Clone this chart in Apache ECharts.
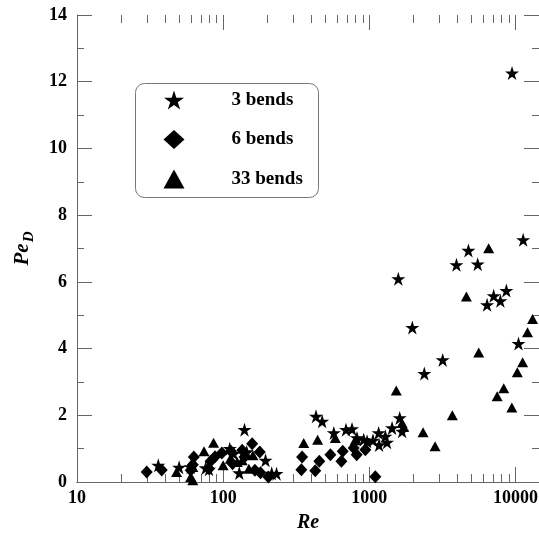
<!DOCTYPE html>
<html><head><meta charset="utf-8">
<script src="https://cdn.jsdelivr.net/npm/echarts@6/dist/echarts.min.js"></script>
<style>html,body{margin:0;padding:0;background:#fff}#c{width:539px;height:533px}</style>
</head><body><div id="c"></div>
<script>
// [Re, Pe_D]
const bends3 = [[36,0.50],[50,0.44],[60,0.45],[76,0.42],[80,0.38],[111,1.00],[118,0.85],[129,0.27],[140,1.57],[145,0.90],[195,0.65],[215,0.26],[232,0.25],
  [432,1.97],[476,1.82],[572,1.47],[693,1.57],[762,1.59],[824,1.32],[916,1.27],[966,1.22],[1060,1.25],[1159,1.47],[1167,1.11],[1288,1.37],[1323,1.19],[1432,1.62],[1615,1.92],[1678,1.52],
  [1580,6.09],[1970,4.63],[2380,3.25],[3180,3.66],[3950,6.51],[4770,6.94],[5520,6.53],[6400,5.31],[7100,5.58],[7890,5.43],[8670,5.74],[9480,12.26],[10500,4.15],[11300,7.26]];
const bends6 = [[30,0.30],[38,0.36],[60,0.35],[63,0.75],[62,0.52],[80,0.40],[82,0.62],[88,0.76],[98,0.87],[113,0.92],[116,0.55],[135,0.95],[140,0.75],[158,1.15],[165,0.35],[178,0.90],[180,0.28],[204,0.15],
  [343,0.37],[347,0.75],[427,0.34],[455,0.62],[542,0.82],[645,0.62],[658,0.92],[782,1.02],[820,0.82],[940,0.97],[1100,0.16]];
const bends33 = [[48,0.30],[60,0.15],[62,0.05],[62,0.45],[74,0.92],[86,1.18],[100,0.50],[112,0.70],[125,0.60],[135,0.65],[150,0.40],[160,0.80],
  [356,1.17],[443,1.27],[586,1.32],[800,1.25],[1530,2.74],[1678,1.77],[1720,1.65],[2334,1.49],[2820,1.07],[3700,2.00],[4620,5.56],[5610,3.88],[6560,7.01],[7500,2.57],[8320,2.81],[9450,2.23],[10300,3.29],[11200,3.59],[12100,4.49],[13100,4.89]];
const seriesNames = ['3 bends','6 bends','33 bends'];
const xTickLabels = [10,100,1000,10000];
const xMajorTicks = [100,1000,10000];
const xMinorTicks = [20,30,40,50,60,70,80,90,200,300,400,500,600,700,800,900,2000,3000,4000,5000,6000,7000,8000,9000];
const xRange = [10, 14500];
const yRange = [0, 14];

const FONT = 'Liberation Serif';
const STAR = 'path://M50 0 L61.23 34.55 L97.55 34.55 L68.16 55.9 L79.39 90.45 L50 69.1 L20.61 90.45 L31.84 55.9 L2.45 34.55 L38.77 34.55 Z';
const AX = '#666';

function tickSeries(values, atValue, dir, len) {
  return {type:'custom', silent:true, xAxisIndex:0, yAxisIndex:0, clip:false, z:1,
    data:values.map(v=>[v, atValue]), encode:{x:0, y:1},
    renderItem:(params, api)=>{
      const p = api.coord([api.value(0), atValue]);
      const x = Math.round(p[0]) + 0.5;
      return {type:'line', shape:{x1:x, y1:p[1], x2:x, y2:p[1] + dir*len}, style:{stroke:AX, lineWidth:1}};
    }};
}

const chart = echarts.init(document.getElementById('c'), null, {renderer:'canvas'});
const lblStyle = {color:'#000', fontFamily:FONT, fontWeight:'bold', fontSize:18};
chart.setOption({
  animation:false,
  backgroundColor:'#fff',
  grid:{left:77, right:0, top:15, bottom:51, containLabel:false, outerBoundsMode:'none'},
  legend:{
    data:seriesNames, orient:'vertical', left:163.5, top:90.5, padding:0,
    itemWidth:21, itemHeight:19, itemGap:20.5,
    textStyle:{color:'#000', fontFamily:FONT, fontWeight:'bold', fontSize:19, padding:[0,0,0,42]}
  },
  graphic:[{type:'rect', shape:{x:135.5, y:83.5, width:183, height:114, r:9}, style:{fill:'none', stroke:'#777', lineWidth:1}, z:10}],
  xAxis:[
    {type:'log', logBase:10, min:xRange[0], max:xRange[1], position:'bottom',
     axisLine:{show:true, lineStyle:{color:AX}}, axisTick:{show:false},
     axisLabel:Object.assign({margin:7, showMaxLabel:false, formatter:v=>{const r=Math.round(v);return xTickLabels.includes(r)?String(r):'';}}, lblStyle),
     splitLine:{show:false},
     name:'Re', nameLocation:'middle', nameGap:31,
     nameTextStyle:{color:'#000', fontFamily:FONT, fontWeight:'bold', fontStyle:'italic', fontSize:20}},
    {type:'log', logBase:10, min:xRange[0], max:xRange[1], position:'top',
     axisLine:{show:true, lineStyle:{color:AX}}, axisTick:{show:false},
     axisLabel:{show:false}, splitLine:{show:false}}
  ],
  yAxis:[
    {type:'value', min:yRange[0], max:yRange[1], interval:2, position:'left',
     axisLine:{show:true, lineStyle:{color:AX}}, axisTick:{show:true, inside:true, length:15, lineStyle:{color:AX}},
     minorTick:{show:true, splitNumber:2, length:7, lineStyle:{color:AX}},
     axisLabel:Object.assign({margin:10}, lblStyle), splitLine:{show:false},
     name:'{a|Pe}{b|D}', nameLocation:'middle', nameRotate:90, nameGap:40,
     nameTextStyle:{rich:{
       a:{color:'#000', fontFamily:FONT, fontWeight:'bold', fontStyle:'italic', fontSize:21},
       b:{color:'#000', fontFamily:FONT, fontWeight:'bold', fontStyle:'italic', fontSize:15, padding:[14,0,0,1]}
     }}},
    {type:'value', min:yRange[0], max:yRange[1], interval:2, position:'right',
     axisLine:{show:true, lineStyle:{color:AX}}, axisTick:{show:true, inside:true, length:15, lineStyle:{color:AX}},
     minorTick:{show:true, splitNumber:2, length:7, lineStyle:{color:AX}},
     axisLabel:{show:false}, splitLine:{show:false}}
  ],
  series:[
    tickSeries(xMinorTicks, yRange[0], -1, 8),
    tickSeries(xMinorTicks, yRange[1], 1, 8),
    tickSeries(xMajorTicks, yRange[0], -1, 15),
    tickSeries(xMajorTicks, yRange[1], 1, 15),
    {name:seriesNames[0], type:'scatter', symbol:STAR, symbolSize:14, itemStyle:{color:'#000', opacity:1}, data:bends3, z:3},
    {name:seriesNames[1], type:'scatter', symbol:'diamond', symbolSize:[12,13], itemStyle:{color:'#000', opacity:1}, data:bends6, z:3},
    {name:seriesNames[2], type:'scatter', symbol:'triangle', symbolSize:[11,10], itemStyle:{color:'#000', opacity:1}, data:bends33, z:3}
  ]
});
</script>
</body></html>
